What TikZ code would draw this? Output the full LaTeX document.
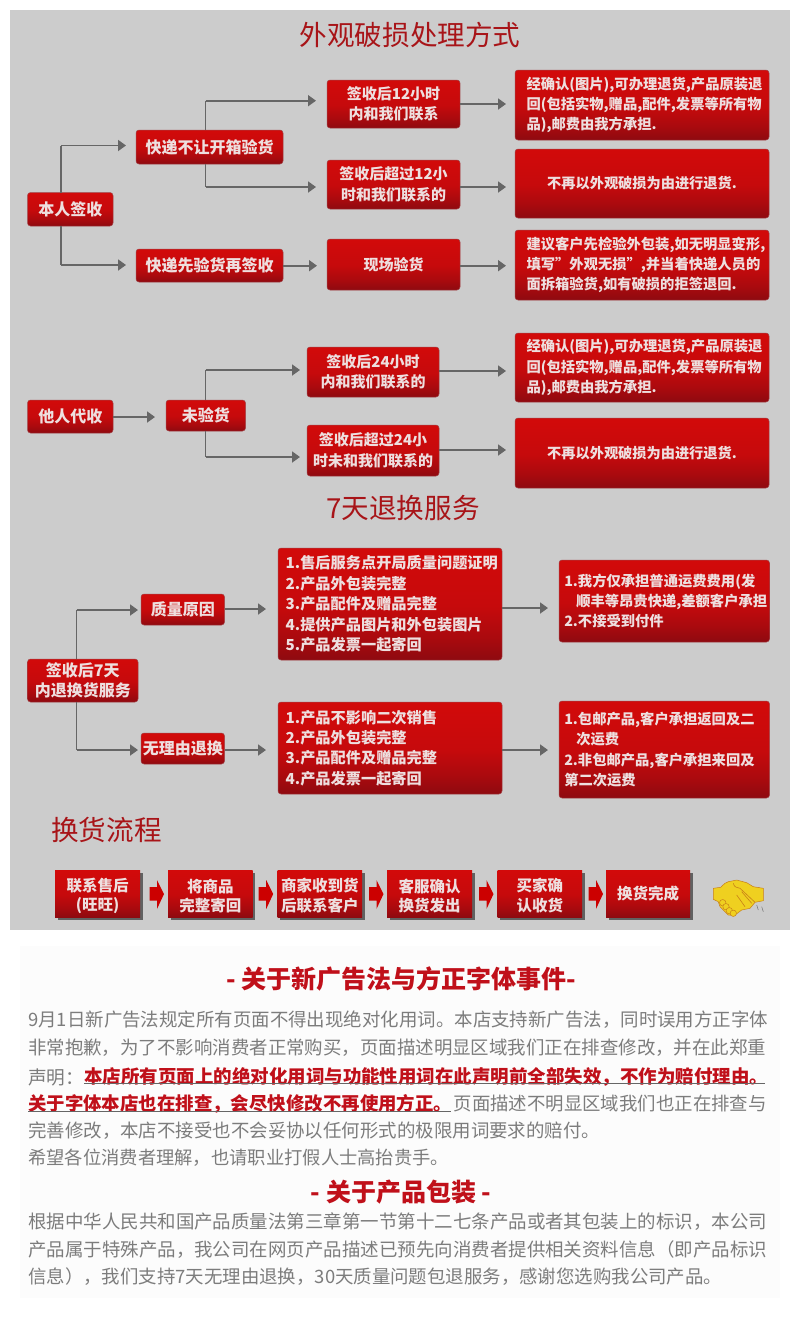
\documentclass[tikz,border=0pt]{standalone}
\usepackage{fontspec}
\usetikzlibrary{arrows.meta}
\setmainfont{Noto Sans CJK SC}
\definecolor{bggray}{HTML}{CCCCCC}
\definecolor{linegray}{HTML}{666666}
\definecolor{titlered}{HTML}{A81418}
\definecolor{headred}{HTML}{C0101A}
\definecolor{bodygray}{HTML}{7C7C7C}
\definecolor{boxtext}{HTML}{EEDFDF}
\definecolor{boxlow}{HTML}{8E0A10}
\definecolor{boxmid}{HTML}{C60A0C}
\definecolor{boxtop}{HTML}{D20A0A}
\definecolor{handyellow}{HTML}{EFD020}
\definecolor{handline}{HTML}{C88018}
\pgfdeclareverticalshading{redfade}{100bp}{
  color(0bp)=(boxlow); color(25bp)=(boxlow); color(35bp)=(boxlow!50!boxmid);
  color(49bp)=(boxmid); color(75bp)=(boxtop); color(100bp)=(boxtop)}
\tikzset{
  x=1pt,y=-1pt,
  redbox/.style={shading=redfade,draw=boxlow!70!bggray,line width=.5pt,rounded corners=3pt,inner sep=0pt,
    text=boxtext,align=center},
  fs/.style={font=\bfseries\fontsize{#1}{20.4}\selectfont},
  flowbox/.style={rounded corners=0pt,draw=none,font=\bfseries\fontsize{15.5}{19.5}\selectfont},
  flowshadow/.style={fill=black!62,draw=none},
  flowarrow/.style={fill=red!80!black,draw=none},
  conn/.style={draw=linegray,line width=1.8pt,-{Triangle[width=11pt,length=8pt,fill=linegray]}},
  trunk/.style={draw=linegray,line width=1.3pt},
  mainhead/.style={text=titlered,inner sep=0pt,font=\fontsize{27.6}{27.6}\selectfont},
  subhead/.style={text=headred,inner sep=0pt,font=\bfseries\fontsize{25}{25}\selectfont},
  bodyline/.style={anchor=west,inner sep=0pt,text=bodygray},
  redline/.style={anchor=west,inner sep=0pt,text=headred,font=\bfseries},
  rule/.style={draw=linegray,line width=.8pt},
  handfill/.style={fill=handyellow,draw=handline,line width=.5pt,line join=round},
  handmark/.style={draw=handline,line width=.6pt},
  handtick/.style={draw=black!55,line width=.5pt},
}
\newcommand{\bx}[7][]{%
  \pgfmathsetmacro{\cx}{(#3+#5)/2}\pgfmathsetmacro{\cy}{(#4+#6)/2}%
  \pgfmathsetmacro{\ww}{#5-#3}\pgfmathsetmacro{\hh}{#6-#4}%
  \node[redbox,#1,minimum width=\ww pt,minimum height=\hh pt] (#2) at (\cx,\cy) {#7};}
\newcommand{\lb}[2]{\begin{minipage}{#1pt}#2\end{minipage}}
\newcommand{\tl}{\rule{0pt}{18pt}}
\newcommand{\fitline}[2]{\resizebox{#1pt}{!}{\fontsize{19}{19}\selectfont #2}}
\begin{document}
\begin{tikzpicture}
\useasboundingbox (0,0) rectangle (800,1320);
\fill[white] (0,0) rectangle (800,1320);
\fill[bggray] (10,10) rectangle (790,930);
\fill[black!1] (20,946) rectangle (780,1298);
% ---- section 1
\node[mainhead] (t1) at (410,35) {外观破损处理方式};
\bx[fs=16]{a0}{27.5}{192.5}{113}{226}{本人签收}
\bx[fs=16]{a1}{136}{130}{283}{164}{快递不让开箱验货}
\bx[fs=16]{a2}{136}{249}{283}{282}{快递先验货再签收}
\bx[fs=15]{b1}{327}{80}{460}{128}{签收后12小时\\内和我们联系}
\bx[fs=15]{b2}{327}{160}{460}{209}{签收后超过12小\\时和我们联系的}
\bx[fs=15]{b3}{327}{239}{460}{290}{现场验货}
\bx[fs=14.3]{c1}{515}{70}{769}{140}{\lb{231}{经确认(图片),可办理退货,产品原装退\\回(包括实物,赠品,配件,发票等所有物\\品),邮费由我方承担.}}
\bx[fs=14.2]{c2}{515}{149}{769}{218}{不再以外观破损为由进行退货.}
\bx[fs=14.3]{c3}{515}{230}{769}{300}{\lb{231}{建议客户先检验外包装,如无明显变形,\\填写”外观无损”,并当着快递人员的\\面拆箱验货,如有破损的拒签退回.}}
\coordinate (a0u) at (61,192.5);\coordinate (a0d) at (61,226);
\coordinate (a1u) at (205.5,130);\coordinate (a1d) at (205.5,164);
\coordinate (k1) at (61,145.5);\coordinate (k2) at (61,265);
\coordinate (k3) at (205.5,100.7);\coordinate (k4) at (205.5,187);
\coordinate (e1) at (126,145.5);\coordinate (e2) at (126,265);
\coordinate (e3) at (316,100.7);\coordinate (e4) at (316,187);
\draw[trunk] (a0u) -- (k1);\draw[trunk] (a0d) -- (k2);
\draw[trunk] (a1u) -- (k3);\draw[trunk] (a1d) -- (k4);
\draw[conn] (k1) -- (e1);\draw[conn] (k2) -- (e2);
\draw[conn] (k3) -- (e3);\draw[conn] (k4) -- (e4);
\coordinate (f1) at (506,104);\coordinate (f2) at (506,187);\coordinate (f3) at (506,265.7);\coordinate (f4) at (317,265.7);
\draw[conn] (b1.east|-f1) -- (f1);\draw[conn] (b2.east|-f2) -- (f2);
\draw[conn] (b3.east|-f3) -- (f3);\draw[conn] (a2.east|-f4) -- (f4);
% ---- section 2
\bx[fs=16]{d0}{27.5}{400}{113}{433}{他人代收}
\bx[fs=16]{d1}{166}{400}{245.5}{431}{未验货}
\bx[fs=15]{d2}{307}{347}{439}{397}{签收后24小时\\内和我们联系的}
\bx[fs=15]{d3}{307}{425}{439}{476}{签收后超过24小\\时未和我们联系的}
\bx[fs=14.3]{d4}{515}{333}{769}{402}{\lb{231}{经确认(图片),可办理退货,产品原装退\\回(包括实物,赠品,配件,发票等所有物\\品),邮费由我方承担.}}
\bx[fs=14.2]{d5}{515}{418}{769}{488}{不再以外观破损为由进行退货.}
\coordinate (g0) at (155,417);
\draw[conn] (d0.east|-g0) -- (g0);
\coordinate (g1) at (205.5,370);\coordinate (g2) at (205.5,457);
\coordinate (g3) at (300,370);\coordinate (g4) at (300,457);
\coordinate (d1u) at (205.5,400);\coordinate (d1d) at (205.5,431);
\draw[trunk] (d1u) -- (g1);\draw[trunk] (d1d) -- (g2);
\draw[conn] (g1) -- (g3);\draw[conn] (g2) -- (g4);
\coordinate (g5) at (506,371);\coordinate (g6) at (506,450);
\draw[conn] (d2.east|-g5) -- (g5);\draw[conn] (d3.east|-g6) -- (g6);
% ---- section 3
\node[mainhead] (t2) at (403,508) {7天退换服务};
\bx[fs=16]{h0}{27.5}{659}{138}{702}{签收后7天\\内退换货服务}
\bx[fs=16]{h1}{141}{594}{224.5}{625}{质量原因}
\bx[fs=16]{h2}{141}{733}{224.5}{764}{无理由退换}
\bx[fs=15.2]{i1}{278}{548}{502}{660}{\lb{208.6}{1.售后服务点开局质量问题证明\\2.产品外包装完整\\3.产品配件及赠品完整\\4.提供产品图片和外包装图片\\5.产品发票一起寄回}}
\bx[fs=15.2]{i2}{278}{702}{502}{794}{\lb{208.6}{1.产品不影响二次销售\\2.产品外包装完整\\3.产品配件及赠品完整\\4.产品发票一起寄回}}
\bx[fs=14.3]{j1}{559}{560}{769.5}{642}{\lb{200}{1.我方仅承担普通运费费用(发\\\hspace*{12pt}顺丰等昂贵快递,差额客户承担\\2.不接受到付件}}
\bx[fs=14.3]{j2}{559}{701}{769.5}{798}{\lb{200}{1.包邮产品,客户承担返回及二\\\hspace*{12pt}次运费\\2.非包邮产品,客户承担来回及\\第二次运费}}
\coordinate (h0u) at (76.5,659);\coordinate (h0d) at (76.5,702);
\coordinate (m1) at (76.5,610);\coordinate (m2) at (76.5,750);
\coordinate (m3) at (138,610);\coordinate (m4) at (138,750);
\draw[trunk] (h0u) -- (m1);\draw[trunk] (h0d) -- (m2);
\draw[conn] (m1) -- (m3);\draw[conn] (m2) -- (m4);
\coordinate (n1) at (266,609);\coordinate (n2) at (266,750);
\coordinate (n3) at (548,608);\coordinate (n4) at (548,750);
\draw[conn] (h1.east|-n1) -- (n1);\draw[conn] (h2.east|-n2) -- (n2);
\draw[conn] (i1.east|-n3) -- (n3);\draw[conn] (i2.east|-n4) -- (n4);
% ---- section 4
\node[mainhead,anchor=west] (t3) at (51,830) {换货流程};
\foreach \xa/\xb in {55/140,168/252.5,277.5/362,387/472,497.5/582,606/690}
  \fill[flowshadow] (\xa+2.5,872.5) rectangle (\xb+2.5,919.5);
\bx[flowbox]{p1}{55}{870}{140}{917}{\tl 联系售后\\(旺旺)}
\bx[flowbox]{p2}{168}{870}{252.5}{917}{\tl 将商品\\完整寄回}
\bx[flowbox]{p3}{277.5}{870}{362}{917}{\tl 商家收到货\\后联系客户}
\bx[flowbox]{p4}{387}{870}{472}{917}{\tl 客服确认\\换货发出}
\bx[flowbox]{p5}{497.5}{870}{582}{917}{\tl 买家确\\认收货}
\bx[flowbox]{p6}{606}{870}{690}{917}{换货完成}
\foreach \ax in {149.5,258.7,369,479,588.5}
  \fill[flowarrow] (\ax,887.2) -- (\ax+7.5,887.2) -- (\ax+7.5,880) -- (\ax+14.5,894) -- (\ax+7.5,909) -- (\ax+7.5,900.6) -- (\ax,900.6) -- cycle;
% handshake
\filldraw[handfill] (713.3,888.3) -- (720.7,887.3) .. controls (724,884) and (726,882) .. (728.3,881.7) -- (736.7,880) -- (746.7,882.7) -- (753.3,886.7) -- (763.3,888.3) -- (763.3,900.7) -- (755,902.3) -- (750,908.3) -- (741.7,910) -- (735,915) -- (728.3,915) -- (720,906.7) -- (718.3,901.7) -- (713.3,899.3) -- cycle;
\foreach \hx/\hy in {722.7/902.7,726/906.7,729.3/910.7,733.3/913.3}
  \filldraw[handfill] (\hx,\hy) circle (3.2);
\draw[handmark] (733.3,883.3) .. controls (734,887) and (737,888) .. (740,888.3) -- (755,902.3);
\draw[handmark] (741.7,891.7) -- (751.7,903.3);
\draw[handmark] (736.7,895) -- (745,906.7);
\draw[handtick] (756.7,905) -- (758.3,910);
\draw[handtick] (761.7,906.7) -- (763.3,911.7);
% ---- notices
\node[subhead] (s1) at (401.5,979) {- 关于新广告法与方正字体事件-};
\node[bodyline] (l1) at (28,1020) {\fitline{740}{9月1日新广告法规定所有页面不得出现绝对化用词。本店支持新广告法，同时误用方正字体}};
\node[bodyline] (l2) at (28,1048) {\fitline{738}{非常抱歉，为了不影响消费者正常购买，页面描述明显区域我们正在排查修改，并在此郑重}};
\node[bodyline] (l3a) at (28,1077) {\fitline{56}{声明：}};
\node[redline] (l3b) at (84,1077) {\fitline{684}{本店所有页面上的绝对化用词与功能性用词在此声明前全部失效，不作为赔付理由。}};
\node[redline] (l4a) at (28,1104) {\fitline{424}{关于字体本店也在排查，会尽快修改不再使用方正。}};
\node[bodyline] (l4b) at (453.5,1104) {\fitline{313}{页面描述不明显区域我们也正在排查与}};
\node[bodyline] (l5) at (28,1131) {\fitline{572}{完善修改，本店不接受也不会妥协以任何形式的极限用词要求的赔付。}};
\node[bodyline] (l6) at (28,1158) {\fitline{421}{希望各位消费者理解，也请职业打假人士高抬贵手。}};
\coordinate (u1) at (84,1083);\coordinate (u2) at (765,1083);\coordinate (u3) at (28,1111);\coordinate (u4) at (451,1111);
\draw[rule] (u1) -- (u2);\draw[rule] (u3) -- (u4);
\node[subhead] (s2) at (401,1192) {- 关于产品包装 -};
\node[bodyline] (l7) at (28,1222) {\fitline{739}{根据中华人民共和国产品质量法第三章第一节第十二七条产品或者其包装上的标识，本公司}};
\node[bodyline] (l8) at (28,1250) {\fitline{739}{产品属于特殊产品，我公司在网页产品描述已预先向消费者提供相关资料信息（即产品标识}};
\node[bodyline] (l9) at (28,1277) {\fitline{694}{信息），我们支持7天无理由退换，30天质量问题包退服务，感谢您选购我公司产品。}};
\end{tikzpicture}
\end{document}
